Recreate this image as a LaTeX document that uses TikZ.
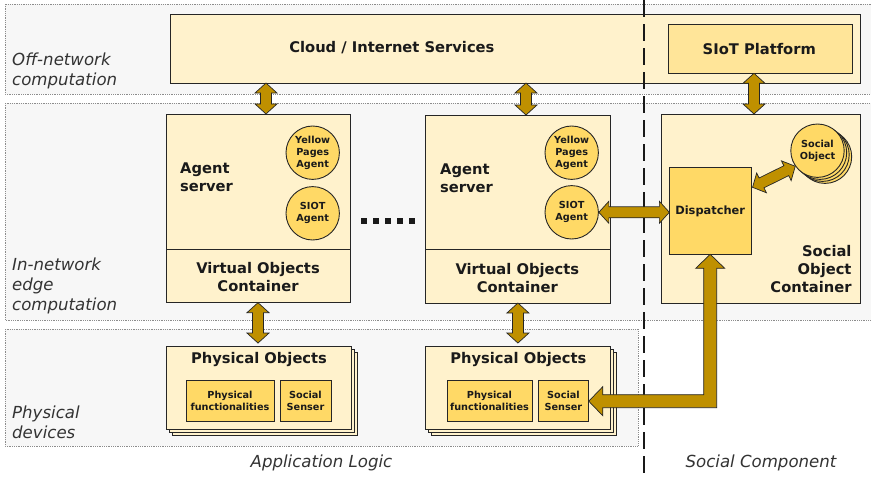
\documentclass[tikz,border=0pt]{standalone}
\usepackage{fontspec}
\setmainfont{DejaVu Sans}
\usetikzlibrary{calc,shadows}
\definecolor{bandfill}{HTML}{F7F7F7}
\definecolor{bandline}{HTML}{8C8C8C}
\definecolor{boxfill}{HTML}{FFF2CC}
\definecolor{boxline}{HTML}{262626}
\definecolor{agentfill}{HTML}{FFD966}
\definecolor{platfill}{HTML}{FFE599}
\definecolor{arrowfill}{HTML}{BF9000}
\definecolor{txtc}{HTML}{1A1A1A}
\definecolor{itxtc}{HTML}{333333}
\newcommand\bigbold{\fontsize{14.7}{18}\selectfont\bfseries}
\newcommand\midbold{\fontsize{11.4}{14}\selectfont\bfseries}
\newcommand\smallbold{\fontsize{9.7}{12}\selectfont\bfseries}
\newcommand\itlab{\fontsize{16.6}{20}\selectfont\itshape}
\newcommand\dblarrow[5]{%
  \coordinate (ba-s) at (#1); \coordinate (ba-e) at (#2);
  \coordinate (ba-p) at ($(ba-s)!#5!(ba-e)$);
  \coordinate (ba-q) at ($(ba-e)!#5!(ba-s)$);
  \filldraw[blockarrow] (ba-s) -- ($(ba-p)!#4!90:(ba-e)$) -- ($(ba-p)!#3!90:(ba-e)$)
    -- ($(ba-q)!#3!-90:(ba-s)$) -- ($(ba-q)!#4!-90:(ba-s)$) -- (ba-e)
    -- ($(ba-q)!#4!90:(ba-s)$) -- ($(ba-q)!#3!90:(ba-s)$)
    -- ($(ba-p)!#3!-90:(ba-e)$) -- ($(ba-p)!#4!-90:(ba-e)$) -- cycle;
}
\begin{document}
\begin{tikzpicture}[x=1pt,y=-1pt,
  band/.style={fill=bandfill, draw=bandline, densely dotted, line width=0.8pt},
  box/.style={draw=boxline, fill=boxfill, line width=0.9pt, inner sep=0pt, outer sep=0pt},
  sz/.style 2 args={minimum width=#1pt, minimum height=#2pt},
  darkbox/.style={box, fill=agentfill},
  platbox/.style={box, fill=platfill},
  agent/.style={circle, draw=boxline, fill=agentfill, line width=0.9pt, minimum size=53.4pt,
    inner sep=0pt, align=center, text=txtc, font=\smallbold},
  btxt/.style={inner sep=0pt, text=txtc, font=\bigbold, align=center},
  stxt/.style={inner sep=0pt, text=txtc, font=\smallbold, align=center},
  itxt/.style={inner sep=0pt, text=itxtc, font=\itlab, align=left},
  stack/.style={copy shadow={shadow xshift=6pt, shadow yshift=-6pt, fill=boxfill, draw=boxline, line width=0.9pt},
                copy shadow={shadow xshift=3pt, shadow yshift=-3pt, fill=boxfill, draw=boxline, line width=0.9pt}},
  blockarrow/.style={fill=arrowfill, draw=black!85, line width=0.7pt, line join=miter},
  sepline/.style={draw=black!90, line width=2.3pt, dash pattern=on 16.5pt off 7.5pt}
]
\useasboundingbox (0,0) rectangle (871,479);

% bands
\fill[white] (0,0) rectangle (871,479);
\draw[band] (5,4) rectangle (880,94);
\draw[band] (5,103) rectangle (880,320);
\draw[band] (5,329) rectangle (638,446);

% band labels
\node[itxt, anchor=west] (lab1) at (12,70.7) {Off-network\\computation};
\node[itxt, anchor=west] (lab2) at (12,286) {In-network\\edge\\computation};
\node[itxt, anchor=west] (lab3) at (12,422) {Physical\\devices};
\node[itxt] (lab4) at (321.5,462.7) {Application Logic};
\node[itxt] (lab5) at (761,462.7) {Social Component};

% top row
\node[box, sz={690}{69}] (cloud) at (515,48.5) {};
\node[btxt] (cloudt) at (391.9,47.5) {Cloud / Internet Services};
\node[platbox, sz={184.7}{49}] (siot) at (760.3,48.8) {};
\node[btxt] (siott) at (759.3,49.5) {SIoT Platform};

% agent servers
\node[box, sz={184}{188.7}] (ag1) at (258,208.3) {};
\draw[boxline, line width=0.9pt] ($(ag1.south west)+(0,-53.7)$) -- ($(ag1.south east)+(0,-53.7)$);
\node[btxt, anchor=west, align=left] (ag1t) at (180,177) {Agent\\server};
\node[btxt] (vo1) at (258,276.7) {Virtual Objects\\Container};
\node[agent] (yp1) at (312.7,152.7) {Yellow\\Pages\\Agent};
\node[agent] (si1) at (312.7,213.3) {SIOT\\Agent};

\node[box, sz={185}{188}] (ag2) at (517.5,209) {};
\draw[boxline, line width=0.9pt] ($(ag2.south west)+(0,-54)$) -- ($(ag2.south east)+(0,-54)$);
\node[btxt, anchor=west, align=left] (ag2t) at (440,178) {Agent\\server};
\node[btxt] (vo2) at (517.3,278) {Virtual Objects\\Container};
\node[agent] (yp2) at (571.7,152.7) {Yellow\\Pages\\Agent};
\node[agent] (si2) at (571.7,212.3) {SIOT\\Agent};

% dots
\foreach \i in {0,...,4} \fill[txtc] (360.5+12.1*\i,217.7) rectangle ++(6,6);

% social object container
\node[box, sz={199}{189}] (soc) at (760.5,208.5) {};
\node[btxt, anchor=east, align=right] (soct) at (851.7,269.2) {Social\\Object\\Container};
\node[darkbox, sz={81.7}{87}] (disp) at (710.2,210.8) {};
\node[inner sep=0pt, text=txtc, font=\midbold] (dispt) at (710.2,211.7) {Dispatcher};
\node[agent, copy shadow={shadow xshift=7.5pt, shadow yshift=-6pt, fill=agentfill, draw=boxline, line width=0.9pt},
  copy shadow={shadow xshift=5pt, shadow yshift=-4pt, fill=agentfill, draw=boxline, line width=0.9pt},
  copy shadow={shadow xshift=2.5pt, shadow yshift=-2pt, fill=agentfill, draw=boxline, line width=0.9pt}]
  (so) at (817.5,150.7) {Social\\Object};

% physical objects
\node[box, stack, sz={185}{83.3}] (ph1) at (258.5,387.7) {};
\node[btxt] (ph1t) at (259,359.3) {Physical Objects};
\node[darkbox, sz={88}{41}] (pf1) at (230,401.2) {};
\node[stxt] (pf1t) at (230,401.2) {Physical\\functionalities};
\node[darkbox, sz={51}{41}] (ss1) at (305.5,401.2) {};
\node[stxt] (ss1t) at (305.5,401.2) {Social\\Senser};

\node[box, stack, sz={184.3}{83.3}] (ph2) at (517.9,387.7) {};
\node[btxt] (ph2t) at (518.3,359.3) {Physical Objects};
\node[darkbox, sz={85}{41}] (pf2) at (489.5,401.2) {};
\node[stxt] (pf2t) at (489.5,401.2) {Physical\\functionalities};
\node[darkbox, sz={50.7}{41}] (ss2) at (563.4,401.2) {};
\node[stxt] (ss2t) at (563.4,401.2) {Social\\Senser};

% separator
\draw[sepline] (644,0) -- (644,479);

% arrows
\coordinate (a1b) at ($(ag1.north)+(8,0)$);
\coordinate (a1t) at (cloud.south -| a1b);
\dblarrow{a1t}{a1b}{5.5pt}{11pt}{10pt}
\coordinate (a2b) at ($(ag2.north)+(8.5,0)$);
\coordinate (a2t) at (cloud.south -| a2b);
\dblarrow{a2t}{a2b}{5.5pt}{11pt}{10pt}
\coordinate (a3b) at ($(soc.north)+(-6.5,0)$);
\coordinate (a3t) at (siot.south -| a3b);
\dblarrow{a3t}{a3b}{5.5pt}{11pt}{10pt}
\coordinate (a4b) at ($(ph1.north)+(-0.5,-3)$);
\dblarrow{ag1.south}{a4b}{5.5pt}{11pt}{10pt}
\coordinate (a5b) at ($(ph2.north)+(0,-3)$);
\coordinate (a5t) at (ag2.south -| a5b);
\dblarrow{a5t}{a5b}{5.5pt}{11pt}{10pt}
\coordinate (hdl) at (disp.west |- si2.east);
\dblarrow{si2.east}{hdl}{5.5pt}{11pt}{10pt}
\coordinate (dgs) at ($(disp.north east)!0.23!(disp.south east)+(1.5,0)$);
\dblarrow{dgs}{so.215}{5.5pt}{11pt}{10pt}

% elbow arrow dispatcher -> social senser
\coordinate (el-d) at (disp.south);
\coordinate (el-s) at (ss2.east);
\coordinate (el-c1) at ($(el-d)+(6.5,0)$);
\coordinate (el-c2) at ($(el-s)+(0,6.5)$);
\coordinate (el-c3) at ($(el-d)+(-6.5,0)$);
\coordinate (el-c4) at ($(el-s)+(0,-6.5)$);
\filldraw[blockarrow] (el-d) -- ++(14.5,14) -- ++(-8,0) -- (el-c1 |- el-c2)
  -- ($(el-s)+(14,6.5)$) -- ++(0,8) -- (el-s) -- ++(14,-14.5) -- ++(0,8)
  -- (el-c3 |- el-c4) -- ($(el-d)+(-6.5,14)$) -- ++(-8,0) -- cycle;
\end{tikzpicture}
\end{document}
